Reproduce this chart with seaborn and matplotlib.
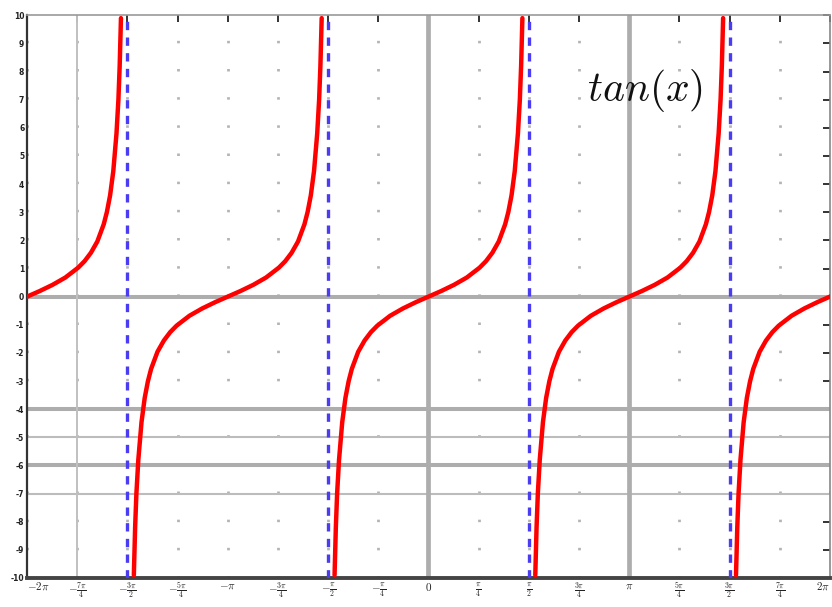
import numpy as np
import pandas as pd
import matplotlib
matplotlib.use("Agg")
import matplotlib.pyplot as plt
import seaborn as sns

# one branch of the curve (offset from branch centre in rad, value)
branch_offset = [-1.47, -1.45, -1.43, -1.40, -1.35, -1.30, -1.25, -1.20, -1.10, -1.00,
                 -0.90, -0.80, -0.60, -0.40, -0.20, 0.00, 0.20, 0.40, 0.60, 0.80,
                 0.90, 1.00, 1.10, 1.20, 1.25, 1.30, 1.35, 1.40, 1.43, 1.45, 1.47]
branch_value = [-9.9, -8.2, -7.0, -5.8, -4.46, -3.6, -3.01, -2.57, -1.96, -1.56,
                -1.26, -1.03, -0.68, -0.42, -0.2, 0.0, 0.2, 0.42, 0.68, 1.03,
                1.26, 1.56, 1.96, 2.57, 3.01, 3.6, 4.46, 5.8, 7.0, 8.2, 9.9]
# branch centres, in multiples of pi
branch_centers = [-2, -1, 0, 1, 2]
# asymptotes, in multiples of pi
asymptotes = [-1.5, -0.5, 0.5, 1.5]

x_ticks = [-2, -1.75, -1.5, -1.25, -1, -0.75, -0.5, -0.25, 0,
           0.25, 0.5, 0.75, 1, 1.25, 1.5, 1.75, 2]
x_labels = [r"$-2\pi$", r"$-\frac{7\pi}{4}$", r"$-\frac{3\pi}{2}$", r"$-\frac{5\pi}{4}$",
            r"$-\pi$", r"$-\frac{3\pi}{4}$", r"$-\frac{\pi}{2}$", r"$-\frac{\pi}{4}$", r"$0$",
            r"$\frac{\pi}{4}$", r"$\frac{\pi}{2}$", r"$\frac{3\pi}{4}$", r"$\pi$",
            r"$\frac{5\pi}{4}$", r"$\frac{3\pi}{2}$", r"$\frac{7\pi}{4}$", r"$2\pi$"]
y_ticks = list(range(-10, 11))

# extra reference lines seen in the picture: (value, thick?)
h_lines = [(0, True), (-4, True), (-5, False), (-6, True), (-7, False)]
v_lines = [(-1.75, False), (0, True), (1, True)]


def main():
    rows = []
    for c in branch_centers:
        for o, v in zip(branch_offset, branch_value):
            rows.append({"branch": c, "x": c * np.pi + o, "y": v})
    df = pd.DataFrame(rows)

    sns.set_theme(style="white")
    plt.rcParams["mathtext.fontset"] = "cm"

    fig = plt.figure(figsize=(8.32, 6.07), dpi=100)
    ax = fig.add_axes([0.0325, 0.0478, 0.965, 0.927])

    # faint dotted grid (dots at tick crossings)
    for xt in x_ticks:
        ax.axvline(xt * np.pi, color="#b4b4b4", lw=2.0,
                   linestyle=(0, (0.9, 9.24)), zorder=0)

    for yv, thick in h_lines:
        ax.axhline(yv, color="#adadad" if thick else "#bcbcbc",
                   lw=2.9 if thick else 1.5, zorder=1)
    for xv, thick in v_lines:
        ax.axvline(xv * np.pi, color="#adadad" if thick else "#c0c0c0",
                   lw=3.4 if thick else 1.4, zorder=1)

    sns.lineplot(data=df, x="x", y="y", units="branch", estimator=None, sort=False,
                 color="#ff0000", lw=3.2, ax=ax, zorder=3)

    for a in asymptotes:
        ax.axvline(a * np.pi, color="#4a3cf0", lw=2.4,
                   linestyle=(0, (2.5, 2.2)), zorder=4)

    ax.set_xlim(-2 * np.pi, 2 * np.pi)
    ax.set_ylim(-10, 10)
    ax.set_xticks([t * np.pi for t in x_ticks])
    ax.set_xticklabels(x_labels, fontsize=8, color="#222222")
    ax.get_xticklabels()[-1].set_horizontalalignment("right")
    ax.get_xticklabels()[0].set_horizontalalignment("left")
    ax.set_yticks(y_ticks)
    ax.set_yticklabels([str(t) for t in y_ticks], fontsize=5.5,
                       color="#222222", fontweight="bold")
    ax.set_xlabel("")
    ax.set_ylabel("")
    ax.tick_params(direction="in", length=5, width=1.4, color="#333333",
                   top=True, right=True, pad=2)

    ax.spines["left"].set_color("#333333")
    ax.spines["left"].set_linewidth(1.6)
    ax.spines["bottom"].set_color("#444444")
    ax.spines["bottom"].set_linewidth(2.8)
    ax.spines["top"].set_color("#999999")
    ax.spines["top"].set_linewidth(1.2)
    ax.spines["right"].set_color("#888888")
    ax.spines["right"].set_linewidth(1.2)

    ax.text(0.77, 0.867, r"$tan(x)$", transform=ax.transAxes, fontsize=30,
            ha="center", va="center", color="#111111", zorder=5)

    fig.savefig("out.png", dpi=100)


if __name__ == "__main__":
    main()
